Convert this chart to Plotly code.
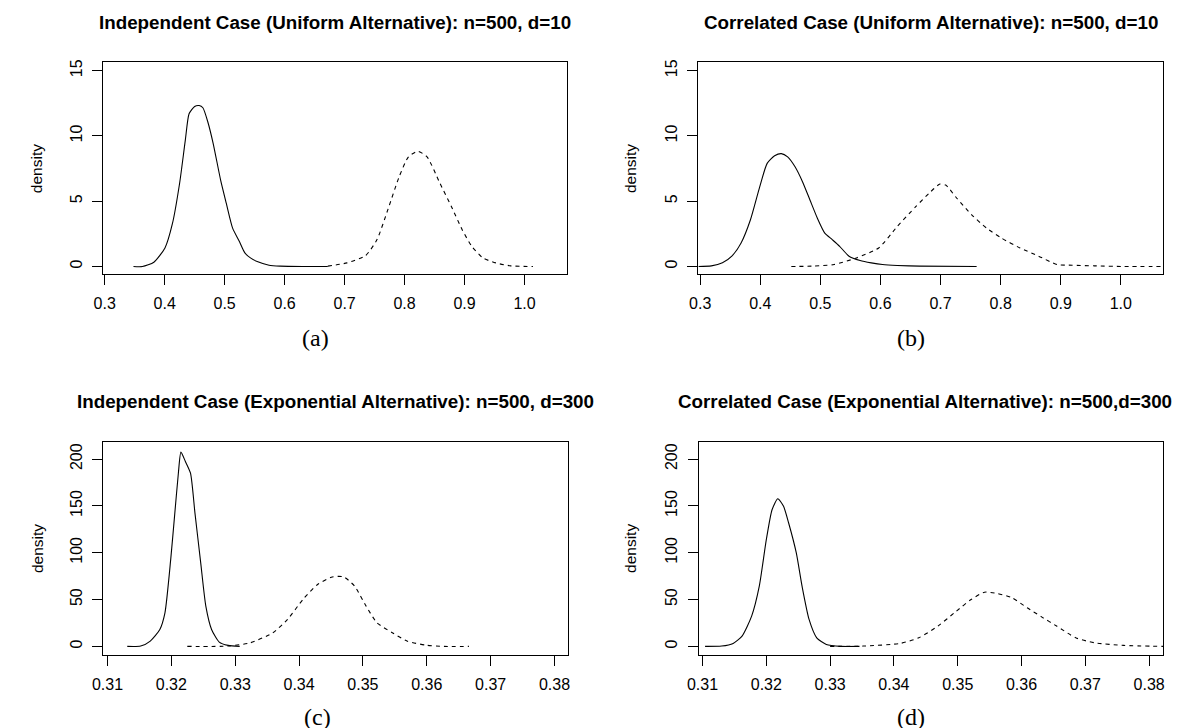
import plotly.graph_objects as go

W, H = 1180, 728

# ---------------- data ----------------
titles = [
    "Independent Case (Uniform Alternative): n=500, d=10",
    "Correlated Case (Uniform Alternative): n=500, d=10",
    "Independent Case (Exponential Alternative): n=500, d=300",
    "Correlated Case (Exponential Alternative): n=500,d=300",
]
sublabels = ["(a)", "(b)", "(c)", "(d)"]
y_label = "density"

a_null_x = [0.348, 0.363, 0.382, 0.4005, 0.413, 0.425, 0.4345, 0.4407, 0.45, 0.4575, 0.4637, 0.472,
            0.481, 0.4934, 0.5027, 0.5133, 0.5244, 0.5337, 0.543, 0.5554, 0.574, 0.5926, 0.63, 0.672]
a_null_y = [0, 0, 0.33, 1.42, 3.3, 6.4, 9.7, 11.7, 12.26, 12.33, 12.16, 11.07,
            9.4, 6.6, 4.85, 2.94, 1.93, 1.04, 0.66, 0.36, 0.1, 0.03, 0, 0]
a_alt_x = [0.672, 0.704, 0.735, 0.754, 0.772, 0.791, 0.8065, 0.822, 0.8375, 0.859, 0.878, 0.896,
           0.912, 0.9305, 0.952, 0.977, 1.014]
a_alt_y = [0.03, 0.28, 0.84, 2.06, 4.34, 6.88, 8.4, 8.83, 8.4, 6.37, 4.6, 2.82,
           1.55, 0.66, 0.28, 0.05, 0]

b_null_x = [0.297, 0.3186, 0.337, 0.3526, 0.368, 0.3836, 0.399, 0.4114, 0.4238, 0.435, 0.4455, 0.4578,
            0.4702, 0.4826, 0.495, 0.5073, 0.5197, 0.532, 0.5476, 0.5661, 0.5847, 0.6033, 0.628, 0.665, 0.76]
b_null_y = [0, 0.05, 0.28, 0.79, 1.8, 3.58, 6.1, 7.9, 8.48, 8.65, 8.4, 7.64,
            6.5, 5.1, 3.7, 2.56, 2.06, 1.55, 0.79, 0.46, 0.28, 0.15, 0.08, 0.03, 0]
b_alt_x = [0.4516, 0.4857, 0.5228, 0.56, 0.597, 0.628, 0.659, 0.6837, 0.699, 0.7085, 0.727, 0.7518,
           0.7766, 0.8013, 0.8323, 0.8632, 0.894, 0.919, 0.956, 1.0056, 1.07]
b_alt_y = [0, 0.03, 0.15, 0.66, 1.42, 3.07, 4.6, 5.74, 6.32, 6.24, 5.23, 3.96,
           2.94, 2.18, 1.42, 0.79, 0.15, 0.1, 0.05, 0, 0]

c_null_x = [0.3131, 0.3152, 0.3167, 0.3182, 0.319, 0.3199, 0.3205, 0.3211, 0.3215, 0.3222, 0.323,
            0.3237, 0.3246, 0.3254, 0.3263, 0.3275, 0.3289, 0.3307]
c_null_y = [0, 0.36, 5.7, 18.1, 35.9, 92.7, 138.9, 185, 207.5, 197.5, 185,
            142.4, 89.2, 43, 18.1, 4.6, 1.07, 0]
c_alt_x = [0.3225, 0.3289, 0.3324, 0.3359, 0.3382, 0.3406, 0.3429, 0.3452, 0.347, 0.3487, 0.3505,
           0.3522, 0.3546, 0.3569, 0.3598, 0.3627, 0.3666]
c_alt_y = [0, 0.36, 3.9, 14.6, 28.8, 50.1, 66.1, 74.2, 74.2, 64.3, 43,
           25.2, 14.6, 5.7, 1.4, 0, 0]

d_null_x = [0.3104, 0.313, 0.3148, 0.3162, 0.3177, 0.3189, 0.32, 0.3209, 0.3218, 0.3227, 0.3235,
            0.3247, 0.3256, 0.3267, 0.3279, 0.3294, 0.3317, 0.3346]
d_null_y = [0, 0.36, 3.2, 11, 32.3, 64.3, 114, 146, 157.7, 149.6, 131.8,
            99.8, 64.3, 28.8, 9.2, 2.1, 0, 0]
d_alt_x = [0.33, 0.3352, 0.341, 0.3439, 0.3469, 0.3498, 0.3521, 0.3542, 0.3562, 0.3585, 0.3609,
           0.3632, 0.3655, 0.3685, 0.3714, 0.376, 0.3822]
d_alt_y = [0, 0.36, 3.2, 9.2, 21.7, 37.7, 50.1, 57.9, 56.5, 51.9, 41.2,
           31.3, 21.7, 9.2, 3.9, 1.07, 0]

x_ticks_top = [0.3, 0.4, 0.5, 0.6, 0.7, 0.8, 0.9, 1.0]
y_ticks_top = [0, 5, 10, 15]
x_ticks_bot = [0.31, 0.32, 0.33, 0.34, 0.35, 0.36, 0.37, 0.38]
y_ticks_bot = [0, 50, 100, 150, 200]

# ---------------- layout geometry (pixels) ----------------
panels = [
    dict(x0=84, x1=554, y0=51.7, y1=264.3, xr=[0.2972, 1.0715], yr=[-0.59, 15.63],
         xt=x_ticks_top, yt=y_ticks_top, xf=".1f", tx=319, ty=12, lx=299, ly=328, dx=17,
         null=(a_null_x, a_null_y), alt=(a_alt_x, a_alt_y)),
    dict(x0=686.5, x1=1157, y0=51.7, y1=264.3, xr=[0.2969, 1.0706], yr=[-0.59, 15.63],
         xt=x_ticks_top, yt=y_ticks_top, xf=".1f", tx=921.7, ty=12, lx=902, ly=328, dx=618,
         null=(b_null_x, b_null_y), alt=(b_alt_x, b_alt_y)),
    dict(x0=84, x1=554.5, y0=432.7, y1=646.3, xr=[0.3093, 0.3821], yr=[-8.8, 218.4],
         xt=x_ticks_bot, yt=y_ticks_bot, xf=".2f", tx=319, ty=392, lx=301, ly=709, dx=17,
         null=(c_null_x, c_null_y), alt=(c_alt_x, c_alt_y)),
    dict(x0=686.7, x1=1156.7, y0=432.7, y1=646.3, xr=[0.30938, 0.38217], yr=[-8.8, 218.4],
         xt=x_ticks_bot, yt=y_ticks_bot, xf=".2f", tx=916, ty=392, lx=902, ly=709, dx=618,
         null=(d_null_x, d_null_y), alt=(d_alt_x, d_alt_y)),
]

fig = go.Figure()
layout = dict(
    width=W, height=H,
    margin=dict(l=0, r=0, t=0, b=0),
    paper_bgcolor="white", plot_bgcolor="white",
    showlegend=False,
    annotations=[],
)

sans = "Liberation Sans, Arial, Helvetica, sans-serif"
tickfont = dict(family=sans, size=16, color="black")

for i, p in enumerate(panels):
    n = "" if i == 0 else str(i + 1)
    xa, ya = "x" + n, "y" + n
    for (xs, ys), dash in ((p["null"], "solid"), (p["alt"], "4px,4px")):
        fig.add_trace(go.Scatter(
            x=xs, y=ys, mode="lines", xaxis=xa, yaxis=ya,
            line=dict(color="black", width=1.1, dash=dash, shape="spline", smoothing=0.6),
            hoverinfo="skip"))
    layout["xaxis" + n] = dict(
        domain=[p["x0"] / W, p["x1"] / W], anchor=ya, range=p["xr"],
        tickmode="array", tickvals=p["xt"], tickformat=p["xf"],
        ticks="outside", ticklen=10, tickwidth=1, tickcolor="black",
        showline=True, linecolor="black", linewidth=1, mirror=True,
        showgrid=False, zeroline=False, tickfont=tickfont, ticklabelstandoff=5)
    layout["yaxis" + n] = dict(
        domain=[1 - p["y1"] / H, 1 - p["y0"] / H], anchor=xa, range=p["yr"],
        tickmode="array", tickvals=p["yt"],
        ticks="outside", ticklen=10, tickwidth=1, tickcolor="black",
        showline=True, linecolor="black", linewidth=1, mirror=True,
        showgrid=False, zeroline=False, tickfont=tickfont, tickangle=-90,
        ticklabelstandoff=4)
    layout["annotations"] += [
        dict(text="<b>" + titles[i] + "</b>", x=p["tx"] / W, y=1 - p["ty"] / H,
             xref="paper", yref="paper", xanchor="center", yanchor="middle", showarrow=False,
             font=dict(family=sans, size=18.8, color="black")),
        dict(text=sublabels[i], x=p["lx"] / W, y=1 - p["ly"] / H,
             xref="paper", yref="paper", xanchor="center", yanchor="middle", showarrow=False,
             font=dict(family="Liberation Serif, Times New Roman, serif", size=24, color="black")),
        dict(text=y_label, x=p["dx"] / W, y=1 - ((p["y0"] + p["y1"]) / 2) / H,
             xref="paper", yref="paper", xanchor="center", yanchor="middle", showarrow=False,
             textangle=-90,
             font=dict(family=sans, size=15.5, color="black")),
    ]

fig.update_layout(**layout)
fig.write_html("out.html")
